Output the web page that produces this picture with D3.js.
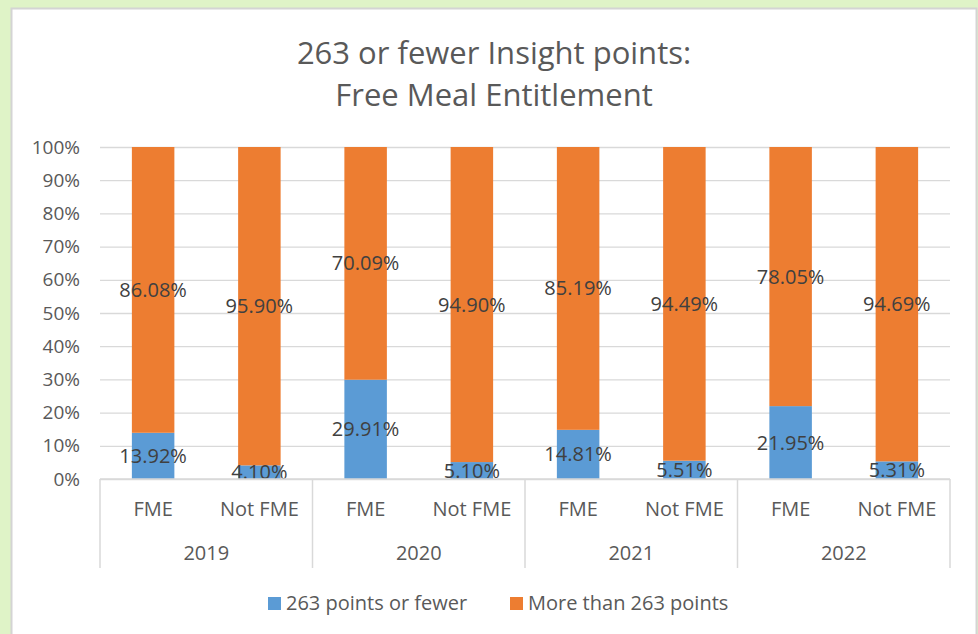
<!DOCTYPE html>
<html>
<head>
<meta charset="utf-8">
<script src="https://cdn.jsdelivr.net/npm/d3@7"></script>
<style>
  body { margin: 0; background: #dff3c7; }
  svg { display: block; }
  text { font-family: "Open Sans", sans-serif; }
</style>
</head>
<body>
<div id="viz"></div>
<script>
var years = ['2019', '2020', '2021', '2022'];
var groups = ['FME', 'Not FME'];
var fewer = [13.92, 4.10, 29.91, 5.10, 14.81, 5.51, 21.95, 5.31];
var more = [86.08, 95.90, 70.09, 94.90, 85.19, 94.49, 78.05, 94.69];
var yTicks = [0, 10, 20, 30, 40, 50, 60, 70, 80, 90, 100];
var seriesNames = ['263 points or fewer', 'More than 263 points'];
var colors = ['#5b9bd5', '#ed7d31'];

var width = 978,
    height = 634,
    plotLeft = 100,
    plotRight = 950,
    plotTop = 147,
    plotBottom = 479;

// one row per bar
var rows = [];
years.forEach(function(y, i) {
    groups.forEach(function(g, j) {
        var k = i * groups.length + j;
        rows.push({ key: y + '|' + g, year: y, group: g, fewer: fewer[k], more: more[k] });
    });
});

var xScale = d3.scaleBand()
    .domain(rows.map(function(d) { return d.key; }))
    .range([plotLeft, plotRight])
    .paddingInner(0.6)
    .paddingOuter(0.3);

var yearScale = d3.scaleBand()
    .domain(years)
    .range([plotLeft, plotRight]);

var yScale = d3.scaleLinear()
    .domain([0, 100])
    .range([plotBottom, plotTop]);

var svg = d3.select('#viz').append('svg')
    .attr('width', width)
    .attr('height', height);

// white panel
svg.append('rect')
    .attr('x', 11.5).attr('y', 8.5)
    .attr('width', 965).attr('height', 640)
    .attr('fill', '#ffffff')
    .attr('stroke', '#d4d4d4')
    .attr('stroke-width', 2);

// title
svg.append('text')
    .attr('x', 494).attr('y', 64)
    .attr('text-anchor', 'middle')
    .attr('font-size', 31)
    .attr('fill', '#595959')
    .text('263 or fewer Insight points:');
svg.append('text')
    .attr('x', 494).attr('y', 106)
    .attr('text-anchor', 'middle')
    .attr('font-size', 31)
    .attr('fill', '#595959')
    .text('Free Meal Entitlement');

// gridlines + y axis labels
var yAxis = d3.axisLeft(yScale)
    .tickValues(yTicks)
    .tickSize(-(plotRight - plotLeft))
    .tickPadding(20)
    .tickFormat(function(d) { return d + '%'; });

var gy = svg.append('g')
    .attr('transform', 'translate(' + plotLeft + ',0)')
    .call(yAxis);
gy.select('.domain').remove();
gy.selectAll('.tick line').attr('stroke', '#d9d9d9').attr('stroke-width', 1.3);
gy.selectAll('.tick text')
    .attr('fill', '#595959')
    .attr('font-size', 19)
    .attr('font-family', '"Open Sans", sans-serif');

// stacked bars
var bars = svg.append('g');
bars.selectAll('rect.fewer').data(rows)
    .enter().append('rect')
    .attr('class', 'fewer')
    .attr('fill', colors[0])
    .attr('x', function(d) { return xScale(d.key); })
    .attr('width', xScale.bandwidth())
    .attr('y', function(d) { return yScale(d.fewer); })
    .attr('height', function(d) { return yScale(0) - yScale(d.fewer); });

bars.selectAll('rect.more').data(rows)
    .enter().append('rect')
    .attr('class', 'more')
    .attr('fill', colors[1])
    .attr('x', function(d) { return xScale(d.key); })
    .attr('width', xScale.bandwidth())
    .attr('y', function(d) { return yScale(d.fewer + d.more); })
    .attr('height', function(d) { return yScale(d.fewer) - yScale(d.fewer + d.more); });

// data labels, centred in each segment
var labels = svg.append('g')
    .attr('font-size', 20)
    .attr('fill', '#404040')
    .attr('text-anchor', 'middle');

labels.selectAll('text.fewer').data(rows)
    .enter().append('text')
    .attr('x', function(d) { return xScale(d.key) + xScale.bandwidth() / 2; })
    .attr('y', function(d) { return yScale(d.fewer / 2); })
    .attr('dy', '0.35em')
    .text(function(d) { return d.fewer.toFixed(2) + '%'; });

labels.selectAll('text.more').data(rows)
    .enter().append('text')
    .attr('x', function(d) { return xScale(d.key) + xScale.bandwidth() / 2; })
    .attr('y', function(d) { return yScale(d.fewer + d.more / 2); })
    .attr('dy', '0.35em')
    .text(function(d) { return d.more.toFixed(2) + '%'; });

// x axis: category labels and year labels, with separators
var axisG = svg.append('g');
axisG.append('line')
    .attr('x1', plotLeft).attr('x2', plotRight)
    .attr('y1', plotBottom).attr('y2', plotBottom)
    .attr('stroke', '#d9d9d9').attr('stroke-width', 1.5);

var sepX = years.map(function(y) { return yearScale(y); }).concat([plotRight]);
axisG.selectAll('line.sep').data(sepX)
    .enter().append('line')
    .attr('class', 'sep')
    .attr('x1', function(d) { return d; }).attr('x2', function(d) { return d; })
    .attr('y1', plotBottom).attr('y2', 568)
    .attr('stroke', '#d9d9d9').attr('stroke-width', 1.5);

axisG.selectAll('text.cat').data(rows)
    .enter().append('text')
    .attr('class', 'cat')
    .attr('x', function(d) { return xScale(d.key) + xScale.bandwidth() / 2; })
    .attr('y', 516)
    .attr('text-anchor', 'middle')
    .attr('font-size', 20)
    .attr('fill', '#595959')
    .text(function(d) { return d.group; });

axisG.selectAll('text.year').data(years)
    .enter().append('text')
    .attr('class', 'year')
    .attr('x', function(d) { return yearScale(d) + yearScale.bandwidth() / 2; })
    .attr('y', 560)
    .attr('text-anchor', 'middle')
    .attr('font-size', 20)
    .attr('fill', '#595959')
    .text(function(d) { return d; });

// legend
var legendX = [268, 510];
var legend = svg.append('g').selectAll('g').data(seriesNames)
    .enter().append('g')
    .attr('transform', function(d, i) { return 'translate(' + legendX[i] + ',603)'; });
legend.append('rect')
    .attr('x', 0).attr('y', -6)
    .attr('width', 13).attr('height', 13)
    .attr('fill', function(d, i) { return colors[i]; });
legend.append('text')
    .attr('x', 18).attr('y', 0)
    .attr('dy', '0.35em')
    .attr('font-size', 20)
    .attr('fill', '#595959')
    .text(function(d) { return d; });
</script>
</body>
</html>
